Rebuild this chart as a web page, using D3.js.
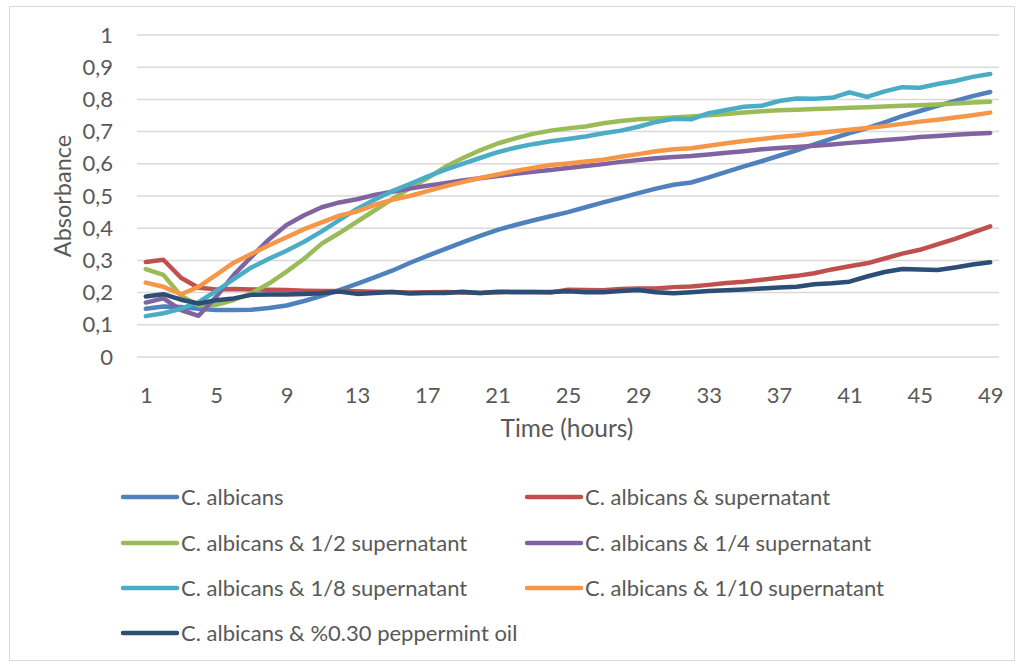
<!DOCTYPE html>
<html>
<head>
<meta charset="utf-8">
<script src="https://cdn.jsdelivr.net/npm/d3@7"></script>
<style>
  html, body { margin: 0; padding: 0; background: #fff; }
  svg { display: block; }
  text { font-family: Lato, "Noto Sans", sans-serif; fill: #595959; }
</style>
</head>
<body>
<svg id="chart" width="1023" height="664"></svg>
<script>
// Time points (hours)
const hours = [1,2,3,4,5,6,7,8,9,10,11,12,13,14,15,16,17,18,19,20,21,22,23,24,25,
               26,27,28,29,30,31,32,33,34,35,36,37,38,39,40,41,42,43,44,45,46,47,48,49];

// Absorbance readings per condition
const albicans = [.150,.157,.155,.150,.146,.146,.147,.152,.160,.174,.190,.208,.227,.247,.268,.292,.314,.335,.356,.376,
                  .395,.410,.424,.437,.450,.465,.480,.494,.509,.523,.535,.542,.558,.575,.592,.608,.625,.642,.660,.678,
                  .695,.711,.729,.748,.764,.780,.795,.810,.823];
const supernatant = [.295,.302,.246,.215,.210,.211,.210,.209,.208,.206,.205,.205,.204,.203,.202,.200,.201,.202,.200,.199,
                     .201,.203,.203,.200,.209,.208,.207,.211,.213,.213,.217,.219,.224,.230,.234,.240,.246,.252,.260,.272,
                     .282,.291,.306,.321,.333,.350,.367,.386,.406];
const half = [.273,.255,.190,.160,.162,.177,.198,.228,.265,.305,.352,.385,.420,.455,.490,.524,.555,.590,.617,.642,
              .663,.679,.693,.703,.710,.716,.726,.733,.738,.741,.744,.747,.751,.755,.759,.763,.766,.768,.770,.772,
              .774,.776,.778,.780,.782,.784,.787,.790,.793];
const quarter = [.169,.182,.146,.128,.187,.255,.311,.365,.410,.440,.465,.480,.490,.503,.513,.523,.532,.540,.548,.555,
                 .562,.569,.575,.581,.587,.593,.599,.606,.612,.617,.621,.624,.629,.634,.639,.645,.649,.652,.656,.660,
                 .665,.669,.674,.678,.683,.686,.690,.693,.696];
const eighth = [.127,.136,.150,.170,.205,.242,.278,.305,.330,.358,.390,.425,.460,.488,.515,.537,.560,.581,.600,.618,
                .636,.650,.661,.670,.677,.685,.695,.703,.715,.730,.740,.738,.757,.767,.777,.780,.795,.803,.802,.805,
                .822,.808,.825,.838,.836,.848,.857,.870,.879];
const tenth = [.231,.218,.195,.218,.255,.293,.320,.347,.372,.397,.418,.439,.452,.472,.488,.500,.515,.530,.543,.556,
               .567,.578,.587,.596,.601,.607,.613,.622,.630,.639,.645,.648,.656,.664,.671,.677,.683,.688,.694,.700,
               .706,.711,.717,.724,.731,.737,.744,.751,.759];
const peppermint = [.188,.195,.178,.166,.176,.182,.193,.194,.194,.196,.198,.203,.196,.199,.202,.197,.199,.199,.203,.199,
                    .203,.201,.201,.202,.204,.201,.201,.205,.208,.201,.198,.201,.205,.207,.210,.213,.216,.218,.226,.229,
                    .234,.250,.264,.273,.272,.270,.278,.287,.294];

const seriesNames = ["C. albicans", "C. albicans & supernatant", "C. albicans & 1/2 supernatant",
                     "C. albicans & 1/4 supernatant", "C. albicans & 1/8 supernatant",
                     "C. albicans & 1/10 supernatant", "C. albicans & %0.30 peppermint oil"];
const seriesValues = [albicans, supernatant, half, quarter, eighth, tenth, peppermint];
const seriesColors = ["#4f81bd", "#c0504d", "#9bbb59", "#8064a2", "#4bacc6", "#f79646", "#2c4d75"];

const xTickLabels = [1,5,9,13,17,21,25,29,33,37,41,45,49];
const yTicks = [0,0.1,0.2,0.3,0.4,0.5,0.6,0.7,0.8,0.9,1];

const svg = d3.select("#chart");

// chart area frame
svg.append("rect")
  .attr("x", 9.5).attr("y", 6.5).attr("width", 1005).attr("height", 654)
  .attr("fill", "#fff").attr("stroke", "#d9d9d9").attr("stroke-width", 1);

const plot = { left: 137, right: 999, top: 35, bottom: 357 };

const x = d3.scalePoint().domain(hours).range([plot.left, plot.right]).padding(0.5);
const y = d3.scaleLinear().domain([0, 1]).range([plot.bottom, plot.top]);

const fmt = v => d3.format(".1~f")(v).replace(".", ",");
const tickFont = 22;

// horizontal gridlines
svg.append("g")
  .selectAll("line").data(yTicks).join("line")
  .attr("x1", plot.left).attr("x2", plot.right)
  .attr("y1", d => y(d)).attr("y2", d => y(d))
  .attr("stroke", "#d9d9d9").attr("stroke-width", 1.5);

// y axis labels
const yAxis = d3.axisLeft(y).tickValues(yTicks).tickFormat(fmt).tickSize(0).tickPadding(0);
svg.append("g")
  .attr("transform", `translate(${plot.left - 24},0)`)
  .call(yAxis)
  .call(g => g.select(".domain").remove())
  .call(g => g.selectAll("text").attr("font-size", tickFont).attr("fill", "#595959")
                .style("font-family", "Lato, 'Noto Sans', sans-serif"));

// x axis labels
const xAxis = d3.axisBottom(x).tickValues(xTickLabels).tickSize(0).tickPadding(0);
svg.append("g")
  .attr("transform", `translate(0,${plot.bottom + 30})`)
  .call(xAxis)
  .call(g => g.select(".domain").remove())
  .call(g => g.selectAll("text").attr("font-size", tickFont).attr("fill", "#595959")
                .style("font-family", "Lato, 'Noto Sans', sans-serif"));

// axis titles
svg.append("text")
  .attr("x", 567).attr("y", 437)
  .attr("text-anchor", "middle").attr("font-size", 24.5)
  .text("Time (hours)");

svg.append("text")
  .attr("transform", `translate(71,${(plot.top + plot.bottom) / 2}) rotate(-90)`)
  .attr("text-anchor", "middle").attr("font-size", 23.5)
  .text("Absorbance");

// series lines
const line = d3.line().x((d, i) => x(hours[i])).y(d => y(d));
svg.append("g")
  .selectAll("path").data(seriesValues).join("path")
  .attr("d", d => line(d))
  .attr("fill", "none")
  .attr("stroke", (d, i) => seriesColors[i])
  .attr("stroke-width", 4.5)
  .attr("stroke-linejoin", "round")
  .attr("stroke-linecap", "round");

// legend
const legendCols = [123, 527];
const legendRows = [497, 543, 588, 633];
const legend = svg.append("g")
  .selectAll("g").data(seriesNames).join("g")
  .attr("transform", (d, i) => `translate(${legendCols[i % 2]},${legendRows[Math.floor(i / 2)]})`);
legend.append("line")
  .attr("x1", 0).attr("x2", 54).attr("y1", 0).attr("y2", 0)
  .attr("stroke", (d, i) => seriesColors[i])
  .attr("stroke-width", 4.5).attr("stroke-linecap", "round");
legend.append("text")
  .attr("x", 58).attr("y", 0).attr("dy", "0.35em")
  .attr("font-size", 22)
  .text(d => d);
</script>
</body>
</html>
